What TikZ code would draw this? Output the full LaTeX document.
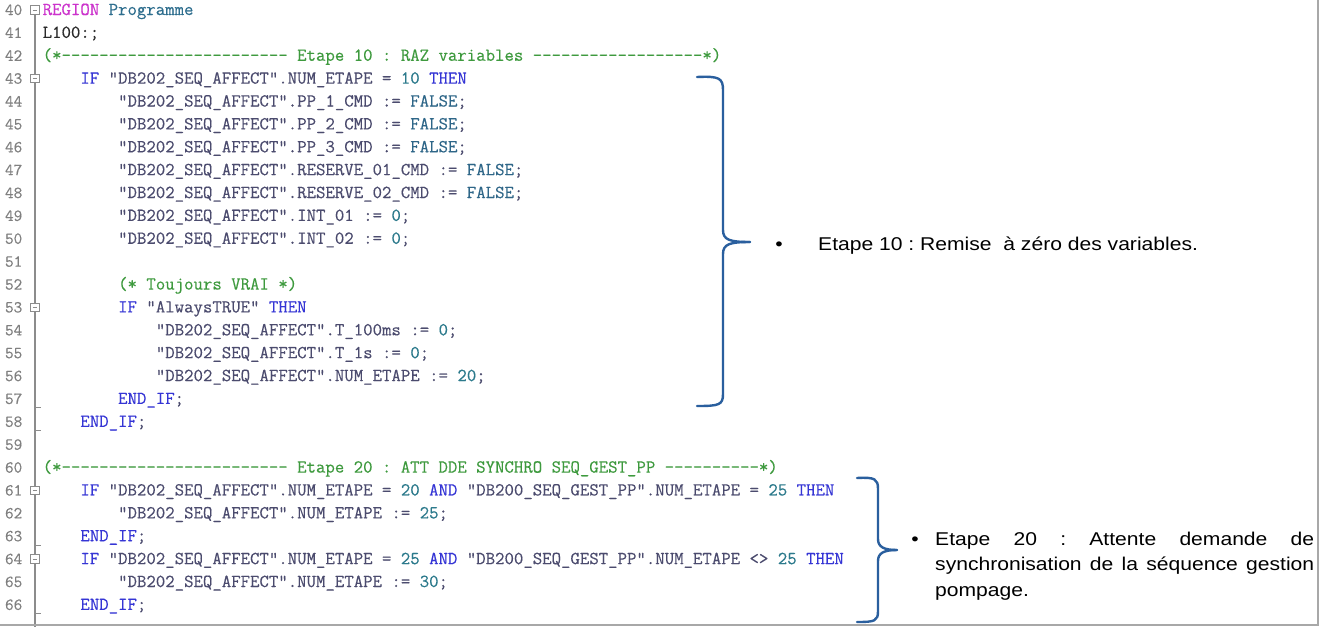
\documentclass[tikz,border=0pt]{standalone}
\usepackage{fontspec}
\setmonofont{Latin Modern Mono}[FakeBold=0.35]
\newfontfamily\lblfont{Liberation Sans}[FakeStretch=1.14]
\frenchspacing
\definecolor{lnumc}{HTML}{808080}
\definecolor{kwc}{HTML}{3535D5}
\definecolor{idc}{HTML}{4B4B6E}
\definecolor{cmc}{HTML}{3E9A3E}
\definecolor{numc}{HTML}{2C7A8C}
\definecolor{flc}{HTML}{2E6688}
\definecolor{rgc}{HTML}{CC33CC}
\definecolor{prc}{HTML}{2E6E8E}
\definecolor{plc}{HTML}{2A2A2A}
\definecolor{brc}{HTML}{2A5F9E}
\definecolor{gutc}{HTML}{8C8C8C}
\definecolor{borc}{HTML}{A8A8A8}
\newcommand\kwd[1]{\textcolor{kwc}{#1}}
\newcommand\idt[1]{\textcolor{idc}{#1}}
\newcommand\cmt[1]{\textcolor{cmc}{#1}}
\newcommand\cnum[1]{\textcolor{numc}{#1}}
\newcommand\fls[1]{\textcolor{flc}{#1}}
\newcommand\codeline[4]{\node[codetext] (c#1) at ({42.5+9.43*#3},{15+22.88*#2}) {#4};}
\newcommand\linenum[2]{\node[lntext] (n#1) at (22.5,{15+22.88*#2}) {#1};}
\newcommand\foldbox[2]{%
  \draw[gutc, fill=white, line width=0.9pt] ({35-4.3},{15+22.88*#2-9.3}) rectangle ({35+4.3},{15+22.88*#2-0.7});
  \draw[gutc, line width=0.9pt] ({35-2.3},{15+22.88*#2-5}) -- ({35+2.3},{15+22.88*#2-5});}
\newcommand\closetick[1]{\draw[gutc, line width=1pt] (35,{15+22.88*#1+4}) -- (40.5,{15+22.88*#1+4});}
\tikzset{
  codetext/.style={anchor=base west, inner sep=0pt, font=\ttfamily\fontsize{18.3}{20}\selectfont, text=idc},
  lntext/.style={anchor=base east, inner sep=0pt, font=\ttfamily\fontsize{16.8}{18}\selectfont, text=lnumc},
  lbltext/.style={inner sep=0pt, font=\lblfont\fontsize{18.5}{25.5}\selectfont, text=black},
  bracestyle/.style={draw=brc, line width=2.4pt, line cap=round, line join=round},
}
\begin{document}
\begin{tikzpicture}[x=1pt,y=-1pt]
\useasboundingbox (0,0) rectangle (1320,627);
\fill[white] (0,0) rectangle (1320,627);
% gutter
\draw[gutc, line width=1.3pt] (35,14) -- (35,627);
% line numbers
\foreach \r in {0,...,26}{
  \pgfmathtruncatemacro{\ln}{40+\r}
  \linenum{\ln}{\r}
}
\foldbox{40}{0}
\foldbox{43}{3}
\foldbox{53}{13}
\foldbox{61}{21}
\foldbox{64}{24}
\closetick{17}
\closetick{18}
\closetick{23}
\closetick{26}
% code
\codeline{40}{0}{0}{\textcolor{rgc}{REGION} \textcolor{prc}{Programme}}
\codeline{41}{1}{0}{\textcolor{plc}{L100:;}}
\codeline{42}{2}{0}{\cmt{(*------------------------ Etape 10 : RAZ variables ------------------*)}}
\codeline{43}{3}{4}{\kwd{IF} "DB202\_SEQ\_AFFECT".NUM\_ETAPE = \cnum{10} \kwd{THEN}}
\codeline{44}{4}{8}{"DB202\_SEQ\_AFFECT".PP\_1\_CMD := \fls{FALSE};}
\codeline{45}{5}{8}{"DB202\_SEQ\_AFFECT".PP\_2\_CMD := \fls{FALSE};}
\codeline{46}{6}{8}{"DB202\_SEQ\_AFFECT".PP\_3\_CMD := \fls{FALSE};}
\codeline{47}{7}{8}{"DB202\_SEQ\_AFFECT".RESERVE\_01\_CMD := \fls{FALSE};}
\codeline{48}{8}{8}{"DB202\_SEQ\_AFFECT".RESERVE\_02\_CMD := \fls{FALSE};}
\codeline{49}{9}{8}{"DB202\_SEQ\_AFFECT".INT\_01 := \cnum{0};}
\codeline{50}{10}{8}{"DB202\_SEQ\_AFFECT".INT\_02 := \cnum{0};}
\codeline{52}{12}{8}{\cmt{(* Toujours VRAI *)}}
\codeline{53}{13}{8}{\kwd{IF} "AlwaysTRUE" \kwd{THEN}}
\codeline{54}{14}{12}{"DB202\_SEQ\_AFFECT".T\_100ms := \cnum{0};}
\codeline{55}{15}{12}{"DB202\_SEQ\_AFFECT".T\_1s := \cnum{0};}
\codeline{56}{16}{12}{"DB202\_SEQ\_AFFECT".NUM\_ETAPE := \cnum{20};}
\codeline{57}{17}{8}{\kwd{END\_IF};}
\codeline{58}{18}{4}{\kwd{END\_IF};}
\codeline{60}{20}{0}{\cmt{(*------------------------ Etape 20 : ATT DDE SYNCHRO SEQ\_GEST\_PP ----------*)}}
\codeline{61}{21}{4}{\kwd{IF} "DB202\_SEQ\_AFFECT".NUM\_ETAPE = \cnum{20} \kwd{AND} "DB200\_SEQ\_GEST\_PP".NUM\_ETAPE = \cnum{25} \kwd{THEN}}
\codeline{62}{22}{8}{"DB202\_SEQ\_AFFECT".NUM\_ETAPE := \cnum{25};}
\codeline{63}{23}{4}{\kwd{END\_IF};}
\codeline{64}{24}{4}{\kwd{IF} "DB202\_SEQ\_AFFECT".NUM\_ETAPE = \cnum{25} \kwd{AND} "DB200\_SEQ\_GEST\_PP".NUM\_ETAPE <> \cnum{25} \kwd{THEN}}
\codeline{65}{25}{8}{"DB202\_SEQ\_AFFECT".NUM\_ETAPE := \cnum{30};}
\codeline{66}{26}{4}{\kwd{END\_IF};}
% braces
\coordinate (b1top) at (697,77);
\coordinate (b1tip) at (750,242);
\coordinate (b1bot) at (697,406);
\draw[bracestyle] (b1top) .. controls (719,76) and (723,78) .. (723,90) -- (723,230)
  .. controls (723,240) and (730,242) .. (b1tip);
\draw[bracestyle] (b1tip) .. controls (730,242) and (723,244) .. (723,254) -- (723,394)
  .. controls (723,405) and (719,406) .. (b1bot);
\coordinate (b2top) at (857,478);
\coordinate (b2tip) at (897,550);
\coordinate (b2bot) at (857,622);
\draw[bracestyle] (b2top) .. controls (875,477) and (878,479) .. (878,489) -- (878,539)
  .. controls (878,547) and (884,550) .. (b2tip);
\draw[bracestyle] (b2tip) .. controls (884,550) and (878,553) .. (878,561) -- (878,611)
  .. controls (878,621) and (875,622) .. (b2bot);
% labels
\node[lbltext, anchor=base] (bul1) at (779,250) {•};
\node[lbltext, anchor=base west] (txt1) at (818,250) {Etape 10 : Remise\ \ à zéro des variables.};
\node[lbltext, anchor=base] (bul2) at (915,545) {•};
\node[lbltext, anchor=base west] (txt2a) at (935,545) {\makebox[379pt][s]{Etape 20 : Attente demande de}};
\node[lbltext, anchor=base west] (txt2b) at (935,570.5) {\makebox[379pt][s]{synchronisation de la séquence gestion}};
\node[lbltext, anchor=base west] (txt2c) at (935,596) {pompage.};
% window border
\draw[borc, line width=2pt] (0,625) -- (1318,625) -- (1318,0);
\end{tikzpicture}
\end{document}
